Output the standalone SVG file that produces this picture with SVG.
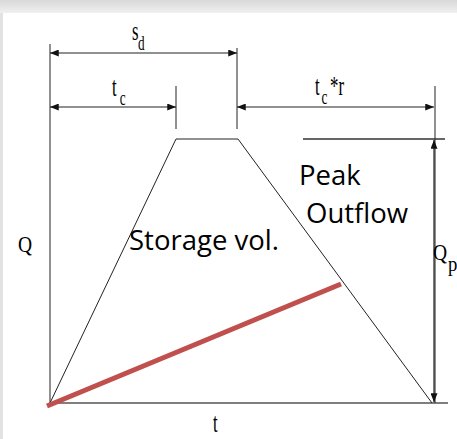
<svg xmlns="http://www.w3.org/2000/svg" width="457" height="439" viewBox="0 0 457 439">
<style>
.ln{stroke:#222;stroke-width:1;fill:none}
.dim{stroke:#222;stroke-width:1.2;fill:none}
.serif{font-family:"Liberation Serif","Times New Roman",serif;fill:#000;font-size:28px}
.sub{font-size:22px}
.sans{font-family:"Open Sans","Liberation Sans",sans-serif;fill:#000;font-size:27.5px}
</style>
<defs>
<linearGradient id="topg" x1="0" y1="0" x2="0" y2="1">
<stop offset="0" stop-color="#d8d8d8"/>
<stop offset="1" stop-color="#f0f0f0"/>
</linearGradient>
<marker id="ah" viewBox="0 0 10 8" refX="10" refY="4" markerWidth="9" markerHeight="7" markerUnits="userSpaceOnUse" orient="auto-start-reverse">
<path d="M0,0 L10,4 L0,8 Z" fill="#111"/>
</marker>
</defs>
<rect width="457" height="439" fill="#fff"/>
<rect x="0" y="0" width="457" height="13" fill="url(#topg)"/>
<rect x="0" y="13" width="3" height="426" fill="#e2e2e2"/>

<g id="connectors">
<line class="ln" x1="50" y1="44" x2="50" y2="403"/>
<line x1="50" y1="403" x2="448" y2="403" stroke="#555" stroke-width="1.6"/>
<line class="ln" x1="176" y1="86" x2="176" y2="129"/>
<line class="ln" x1="237" y1="48" x2="237" y2="129"/>
<line class="ln" x1="435" y1="86" x2="435" y2="403"/>
<line x1="303" y1="139" x2="445" y2="139" stroke="#333" stroke-width="1.3"/>
<line class="dim" x1="50" y1="53" x2="237" y2="53" marker-start="url(#ah)" marker-end="url(#ah)"/>
<line class="dim" x1="50" y1="107" x2="176" y2="107" marker-start="url(#ah)" marker-end="url(#ah)"/>
<line class="dim" x1="237" y1="107" x2="434" y2="107" marker-start="url(#ah)" marker-end="url(#ah)"/>
<line class="dim" x1="434" y1="140" x2="434" y2="402" marker-start="url(#ah)" marker-end="url(#ah)"/>
<polyline class="ln" points="50,403 176,139 238,139 432,403"/>
<line x1="47" y1="406" x2="341" y2="284" stroke="#c0504d" stroke-width="5"/>
</g>

<g id="labels">
<text class="serif" transform="translate(132,40) scale(0.6,1)">s<tspan class="sub" x="10" y="10">d</tspan></text>
<text class="serif" transform="translate(112,96) scale(0.6,1)">t<tspan class="sub" x="13" y="9">c</tspan></text>
<text class="serif" transform="translate(315,95) scale(0.6,1)">t<tspan class="sub" x="11" y="9">c</tspan><tspan x="25" y="0">*r</tspan></text>
<text class="serif" style="font-size:23px" transform="translate(18,252) scale(0.85,1)">Q</text>
<text class="serif" style="font-size:23px" transform="translate(433,260) scale(0.85,1)">Q<tspan class="sub" x="17.6" y="11">p</tspan></text>
<text class="serif" transform="translate(213,432) scale(0.6,1)">t</text>
<text class="sans" x="299" y="185">Peak</text>
<text class="sans" x="306" y="223">Outflow</text>
<text class="sans" x="129" y="250">Storage vol.</text>
</g>
</svg>
